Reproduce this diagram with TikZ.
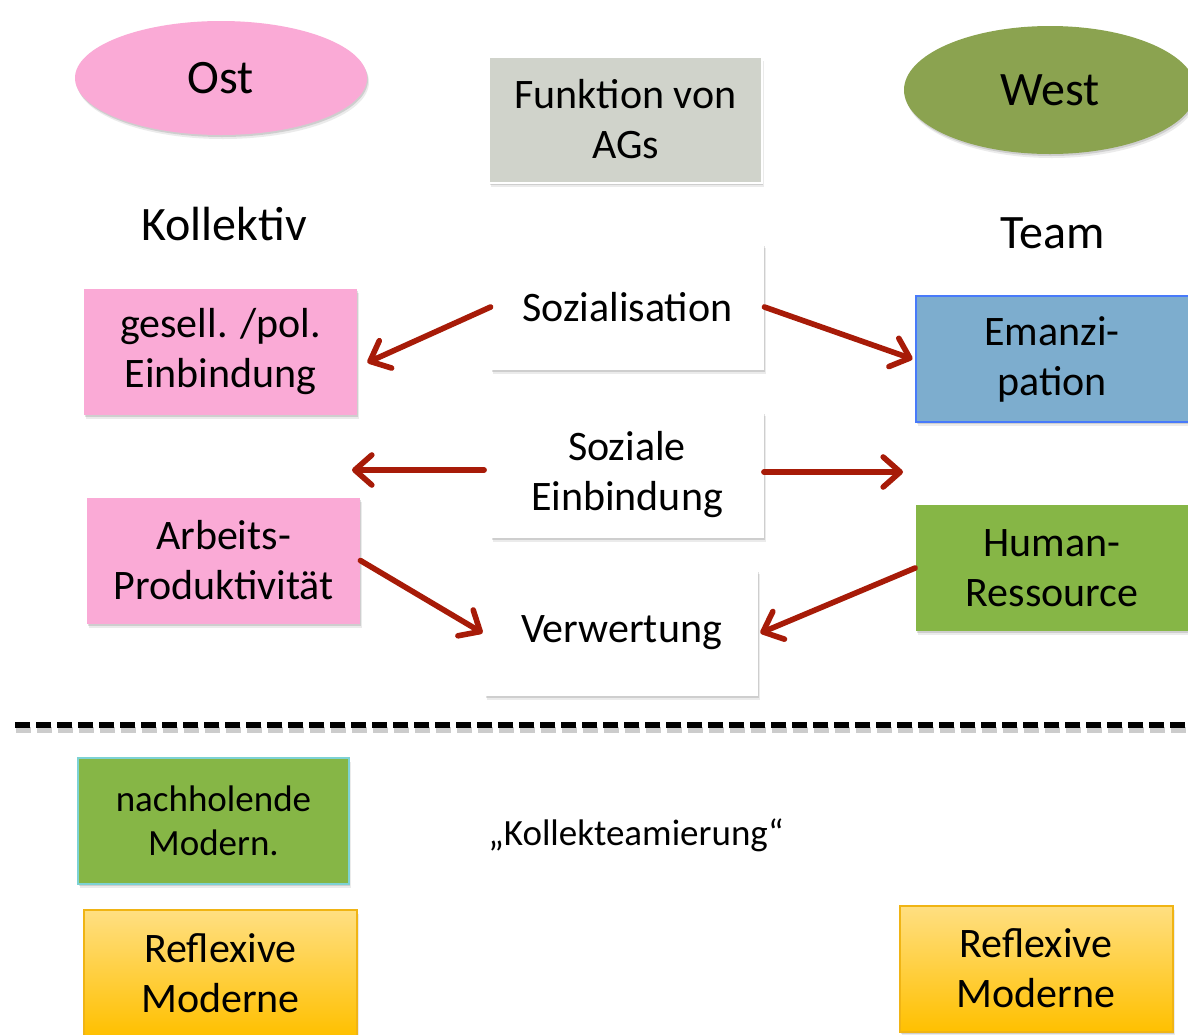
\documentclass[tikz,border=0pt]{standalone}
\usepackage{fontspec}
\setmainfont{Carlito}
\usetikzlibrary{shapes.geometric,shadows,arrows.meta}

\definecolor{ostpink}{RGB}{250,170,214}
\definecolor{westolive}{RGB}{139,163,80}
\definecolor{agsgray}{RGB}{208,211,203}
\definecolor{emanblue}{RGB}{125,173,206}
\definecolor{emanline}{RGB}{72,122,250}
\definecolor{humangreen}{RGB}{134,182,70}
\definecolor{nachline}{RGB}{125,210,212}
\definecolor{reflextop}{RGB}{255,223,130}
\definecolor{reflexbot}{RGB}{255,192,0}
\definecolor{reflexline}{RGB}{240,180,20}
\definecolor{arrred}{RGB}{167,27,8}

\begin{document}
\begin{tikzpicture}[x=0.5pt,y=-0.5pt,
    schatten/.style={general shadow={shadow xshift=1pt,shadow yshift=-2pt,opacity=.08,fill=black},
        general shadow={shadow xshift=.5pt,shadow yshift=-1pt,opacity=.12,fill=black}},
    feld/.style={schatten,minimum width=136.5pt,minimum height=63pt,align=center,
        font=\fontsize{21}{25}\selectfont},
    oval/.style={ellipse,schatten,font=\fontsize{24}{28}\selectfont},
    titel/.style={font=\fontsize{24}{28}\selectfont},
    pfeil/.style={draw=arrred,line width=2.8pt,line cap=round,
        -{Straight Barb[length=8.5pt,width=15pt,line width=2.8pt,round]}}]

    \useasboundingbox (0,0) rectangle (1188,1034);

    % Kopfzeile
    \node[oval,fill=ostpink,minimum width=146pt,minimum height=57pt] (ost) at (221,78) {Ost};
    \node[oval,fill=westolive,minimum width=146pt,minimum height=64pt] (west) at (1050,90) {West};
    \node[feld,fill=agsgray,draw=white,line width=1pt] (ags) at (625.5,119.5) {Funktion von\\AGs};

    \node[titel] (kollektiv) at (224,224) {Kollektiv};
    \node[titel] (team) at (1053,233) {Team};

    % mittlere Spalte
    \node[feld,fill=white] (soz) at (627.5,307) {Sozialisation};
    \node[feld,fill=white] (sozein) at (627,475) {Soziale\\Einbindung};
    \node[feld,fill=white] (verw) at (621.5,633) {Verwertung};

    % Ost
    \node[feld,fill=ostpink] (gesell) at (220.5,351.5) {gesell. /pol.\\Einbindung};
    \node[feld,fill=ostpink] (arbeit) at (223.5,560.5) {Arbeits-\\Produktivität};

    % West
    \node[feld,fill=emanblue,draw=emanline,line width=1pt] (eman) at (1052,359) {Emanzi-\\pation};
    \node[feld,fill=humangreen] (human) at (1052,568) {Human-\\Ressource};

    \coordinate (links) at (352,470);
    \coordinate (rechts) at (903,472);

    \draw[pfeil] (soz.west) -- ([shift={(10,11)}]gesell.east);
    \draw[pfeil] (soz.east) -- ([shift={(-2,0)}]eman.west);
    \draw[pfeil] ([shift={(-6,-5)}]sozein.west) -- (links);
    \draw[pfeil] ([shift={(0,-3)}]sozein.east) -- (rechts);
    \draw[pfeil] (arbeit.east) -- ([shift={(-2,0)}]verw.west);
    \draw[pfeil] (human.west) -- ([shift={(2,0)}]verw.east);

    % Trennlinie
    \draw[black!20,line width=3pt,dash pattern=on 7.5pt off 3pt] (16,730) -- (1189,730);
    \draw[black,line width=3pt,dash pattern=on 7.5pt off 3pt] (15,725) -- (1188,725);

    % unten
    \node[feld,fill=humangreen,draw=nachline,line width=1pt,minimum width=135.5pt,
        font=\fontsize{18.5}{22}\selectfont] (nach) at (213.5,821) {nachholende\\Modern.};
    \node[font=\fontsize{18.5}{22}\selectfont] (kollekteam) at (636,835) {„Kollekteamierung“};

    \node[feld,top color=reflextop,bottom color=reflexbot,draw=reflexline,line width=1pt] (reflexo) at (220.5,973) {Reflexive\\Moderne};
    \node[feld,top color=reflextop,bottom color=reflexbot,draw=reflexline,line width=1pt] (reflexw) at (1036,968.5) {Reflexive\\Moderne};
\end{tikzpicture}
\end{document}
